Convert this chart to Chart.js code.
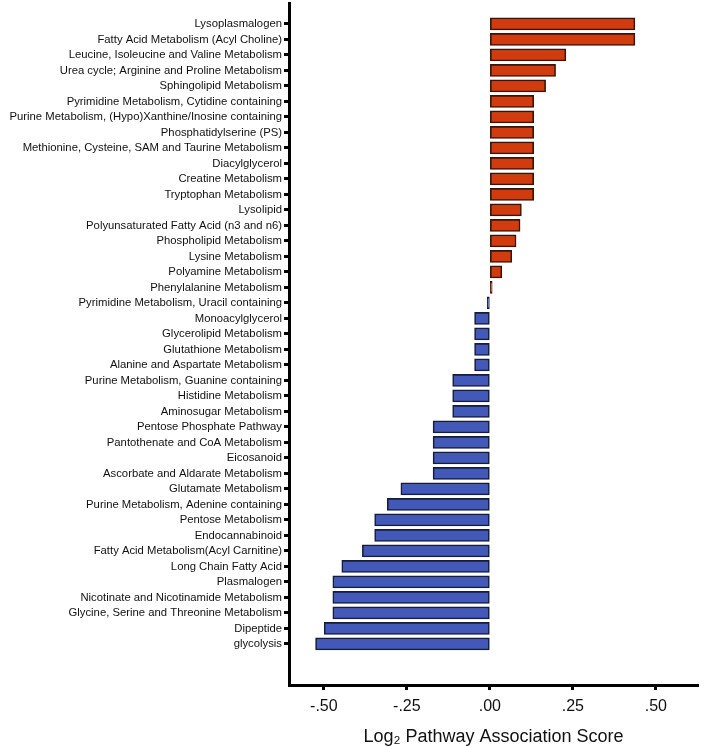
<!DOCTYPE html>
<html>
<head>
<meta charset="utf-8">
<title>Pathway Association Score</title>
<script src="https://cdn.jsdelivr.net/npm/chart.js@4.4.1/dist/chart.umd.min.js"></script>
<style>
  body { margin: 0; background: #fff; }
  #graph { width: 709px; height: 746px; }
</style>
</head>
<body>
<div id="graph"><canvas id="grafico" width="709" height="746"></canvas></div>
<script>
// categorias (de arriba hacia abajo)
var rutas = [
  'Lysoplasmalogen',
  'Fatty Acid Metabolism (Acyl Choline)',
  'Leucine, Isoleucine and Valine Metabolism',
  'Urea cycle; Arginine and Proline Metabolism',
  'Sphingolipid Metabolism',
  'Pyrimidine Metabolism, Cytidine containing',
  'Purine Metabolism, (Hypo)Xanthine/Inosine containing',
  'Phosphatidylserine (PS)',
  'Methionine, Cysteine, SAM and Taurine Metabolism',
  'Diacylglycerol',
  'Creatine Metabolism',
  'Tryptophan Metabolism',
  'Lysolipid',
  'Polyunsaturated Fatty Acid (n3 and n6)',
  'Phospholipid Metabolism',
  'Lysine Metabolism',
  'Polyamine Metabolism',
  'Phenylalanine Metabolism',
  'Pyrimidine Metabolism, Uracil containing',
  'Monoacylglycerol',
  'Glycerolipid Metabolism',
  'Glutathione Metabolism',
  'Alanine and Aspartate Metabolism',
  'Purine Metabolism, Guanine containing',
  'Histidine Metabolism',
  'Aminosugar Metabolism',
  'Pentose Phosphate Pathway',
  'Pantothenate and CoA Metabolism',
  'Eicosanoid',
  'Ascorbate and Aldarate Metabolism',
  'Glutamate Metabolism',
  'Purine Metabolism, Adenine containing',
  'Pentose Metabolism',
  'Endocannabinoid',
  'Fatty Acid Metabolism(Acyl Carnitine)',
  'Long Chain Fatty Acid',
  'Plasmalogen',
  'Nicotinate and Nicotinamide Metabolism',
  'Glycine, Serine and Threonine Metabolism',
  'Dipeptide',
  'glycolysis'
];

// Log2 pathway association score
var puntajes = [
  0.437, 0.437, 0.229, 0.198, 0.168,
  0.132, 0.132, 0.132, 0.132, 0.132, 0.132, 0.132,
  0.095, 0.091, 0.079, 0.066, 0.036, 0.007,
  -0.008,
  -0.046, -0.046, -0.046, -0.046,
  -0.112, -0.112, -0.112,
  -0.171, -0.171, -0.171, -0.171,
  -0.268, -0.309, -0.347, -0.347, -0.384,
  -0.446, -0.473, -0.473, -0.473, -0.499, -0.525
];

var marcasX = [-0.5, -0.25, 0, 0.25, 0.5];

var fuente = 'Arial, "Liberation Sans", sans-serif';
var rojo = '#d23b0e', bordeRojo = '#3a1408';
var azul = '#4359b9', bordeAzul = '#151c3c';

function etiquetaX(valor) {
  return valor.toFixed(2).replace('0.', '.');
}

var puntos = [];
var colores = [];
var bordes = [];
for (var i = 0; i < rutas.length; i++) {
  puntos.push({ x: puntajes[i], y: i });
  colores.push(puntajes[i] >= 0 ? rojo : azul);
  bordes.push(puntajes[i] >= 0 ? bordeRojo : bordeAzul);
}

var datos = {
  type: 'bar',
  data: {
    datasets: [{
      data: puntos,
      backgroundColor: colores,
      borderColor: bordes,
      borderWidth: 1.6,
      borderSkipped: false,
      barThickness: 12
    }]
  },
  options: {
    indexAxis: 'y',
    responsive: false,
    animation: false,
    layout: { padding: { top: 3, right: 11, left: 0, bottom: 0 } },
    plugins: { legend: { display: false }, tooltip: { enabled: false } },
    scales: {
      y: {
        type: 'linear',
        reverse: true,
        offset: false,
        min: -1.35,
        max: 42.65,
        afterBuildTicks: function(scale) {
          scale.ticks = rutas.map(function(r, i) { return { value: i }; });
        },
        afterFit: function(scale) {
          scale.width = 289;
          scale.paddingTop = 0;
          scale.paddingBottom = 0;
        },
        grid: {
          offset: false,
          drawOnChartArea: false,
          drawTicks: true,
          tickLength: 5,
          tickWidth: 3,
          tickColor: '#000'
        },
        border: { display: true, color: '#000', width: 3 },
        ticks: {
          autoSkip: false,
          padding: 2,
          color: '#111',
          font: { family: fuente, size: 11.3 },
          callback: function(v) { return rutas[v] || ''; }
        }
      },
      x: {
        type: 'linear',
        min: -0.605,
        max: 0.627,
        afterBuildTicks: function(scale) {
          scale.ticks = marcasX.map(function(v) { return { value: v }; });
        },
        afterFit: function(scale) {
          scale.height = 61;
          scale.paddingLeft = 0;
          scale.paddingRight = 0;
        },
        grid: {
          drawOnChartArea: false,
          drawTicks: true,
          tickLength: 5,
          tickWidth: 3,
          tickColor: '#000'
        },
        border: { display: true, color: '#000', width: 3 },
        ticks: {
          padding: 7,
          color: '#111',
          font: { family: fuente, size: 16 },
          callback: function(v) { return etiquetaX(v); }
        },
        title: {
          display: true,
          text: 'Log\u2082 Pathway Association Score',
          color: '#111',
          font: { family: fuente, size: 18 },
          padding: { top: 0, bottom: -2 }
        }
      }
    }
  }
};

var contexto = document.getElementById('grafico').getContext('2d');
var chart = new Chart(contexto, datos);
</script>
</body>
</html>
